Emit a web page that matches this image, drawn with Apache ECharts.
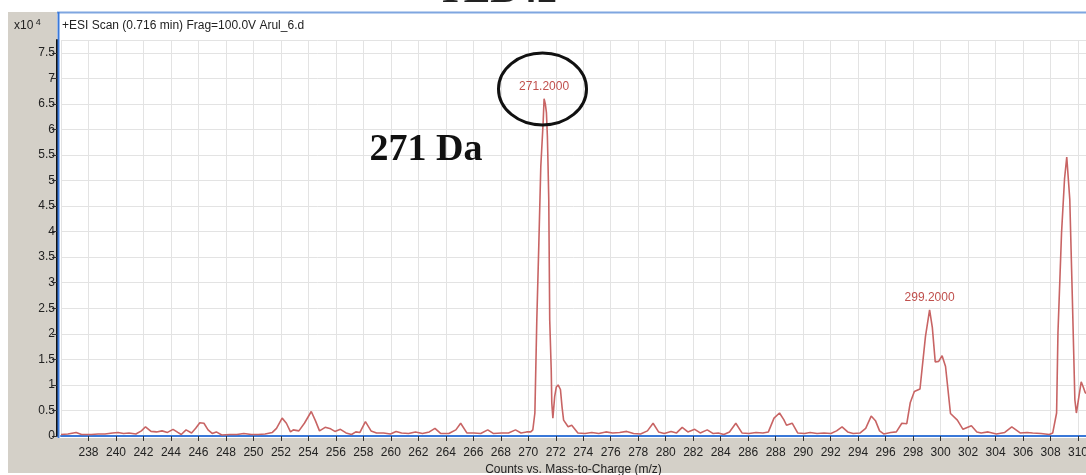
<!DOCTYPE html>
<html>
<head>
<meta charset="utf-8">
<script src="https://cdn.jsdelivr.net/npm/echarts@6/dist/echarts.min.js"></script>
<style>
html,body{margin:0;padding:0;background:#fff;}
#c{width:1086px;height:475px;}
</style>
</head>
<body>
<div id="c"></div>
<script>
// m/z values (x) and counts (x10^4)
const mz = [
236.0,236.5,237.1,237.5,238.2,238.7,239.2,239.75,240.15,240.55,240.95,241.45,241.85,242.15,242.55,242.95,243.35,243.75,244.15,244.5,244.75,245.1,245.5,245.8,246.1,246.4,246.7,247.0,247.3,247.7,248.3,248.8,249.3,249.85,250.35,250.85,251.38,251.68,252.09,252.4,252.7,252.9,253.31,253.71,254.21,254.51,254.81,255.22,255.62,255.93,256.33,256.74,257.14,257.45,257.75,258.15,258.56,258.96,259.47,259.97,260.38,260.78,261.29,261.79,262.3,262.8,263.21,263.62,264.22,264.73,265.08,265.53,266.04,266.54,267.05,267.45,268.06,268.56,269.07,269.47,269.88,270.18,270.33,270.48,270.62,270.77,270.91,271.08,271.15,271.24,271.32,271.39,271.44,271.49,271.56,271.67,271.71,271.79,271.92,272.04,272.17,272.34,272.46,272.57,272.9,273.16,273.61,274.12,274.62,275.13,275.64,276.14,276.65,277.16,277.66,278.17,278.67,279.08,279.48,279.89,280.39,280.79,281.2,281.61,282.11,282.51,283.02,283.43,283.83,284.23,284.64,285.1,285.55,286.06,286.57,287.07,287.47,287.88,288.28,288.59,288.79,289.2,289.6,290.1,290.51,291.01,291.52,292.02,292.43,292.83,293.24,293.64,294.15,294.55,294.95,295.26,295.56,295.86,296.37,296.78,297.18,297.54,297.79,298.09,298.5,298.9,299.2,299.4,299.61,299.86,300.11,300.36,300.72,301.22,301.63,302.24,302.64,302.95,303.46,304.06,304.67,305.18,305.79,306.29,306.7,307.31,307.91,308.16,308.44,308.54,308.8,309.02,309.18,309.4,309.59,309.77,309.88,310.03,310.23,310.38,310.52,310.58
];
const counts = [
0.03,0.04,0.07,0.03,0.03,0.04,0.04,0.06,0.07,0.05,0.06,0.04,0.10,0.18,0.09,0.08,0.10,0.07,0.13,0.07,0.03,0.12,0.06,0.15,0.26,0.25,0.12,0.05,0.08,0.02,0.03,0.03,0.05,0.03,0.03,0.04,0.07,0.15,0.35,0.25,0.08,0.12,0.10,0.25,0.48,0.30,0.10,0.17,0.14,0.09,0.13,0.06,0.03,0.08,0.07,0.28,0.10,0.06,0.06,0.04,0.09,0.06,0.05,0.08,0.05,0.08,0.15,0.05,0.05,0.12,0.25,0.06,0.06,0.05,0.12,0.05,0.06,0.06,0.12,0.06,0.08,0.08,0.12,0.45,2.27,3.78,5.27,6.13,6.60,6.50,6.33,5.86,5.27,4.63,2.27,1.29,0.65,0.35,0.77,0.96,1.00,0.91,0.56,0.31,0.18,0.21,0.06,0.05,0.07,0.05,0.08,0.06,0.07,0.09,0.05,0.04,0.10,0.25,0.08,0.05,0.09,0.06,0.17,0.08,0.13,0.06,0.12,0.05,0.06,0.03,0.08,0.25,0.06,0.05,0.07,0.06,0.08,0.35,0.45,0.32,0.21,0.25,0.06,0.05,0.07,0.05,0.06,0.05,0.10,0.18,0.08,0.05,0.06,0.15,0.39,0.30,0.10,0.04,0.07,0.08,0.25,0.24,0.65,0.87,0.92,1.95,2.47,2.12,1.45,1.46,1.57,1.36,0.44,0.31,0.13,0.20,0.08,0.06,0.08,0.04,0.07,0.18,0.06,0.07,0.06,0.05,0.03,0.06,0.45,2.02,3.97,5.04,5.46,4.63,2.66,0.71,0.45,0.71,1.06,0.96,0.85,0.83
];
const peakLabels = [
  { mz: 271.15, v: 6.60, text: '271.2000' },
  { mz: 299.2, v: 2.47, text: '299.2000' }
];
const title = '+ESI Scan (0.716 min) Frag=100.0V Arul_6.d';
const xName = 'Counts vs. Mass-to-Charge (m/z)';
const annotation = '271 Da';

const chart = echarts.init(document.getElementById('c'), null, { renderer: 'canvas' });
const font = '"Liberation Sans", Arial, sans-serif';
const data = mz.map((m, i) => [m, counts[i]]);

chart.setOption({
  animation: false,
  backgroundColor: '#ffffff',
  grid: { left: 61, right: 0, top: 40, bottom: 39, containLabel: false, outerBoundsMode: 'none' },
  xAxis: {
    type: 'value', min: 236, max: 310.58, interval: 2,
    position: 'bottom', offset: 2,
    name: xName, nameLocation: 'middle', nameGap: 23,
    nameTextStyle: { fontFamily: font, fontSize: 12, color: '#222' },
    axisLine: { show: true, lineStyle: { color: '#3a78d8', width: 2 } },
    axisTick: { show: true, length: 5, lineStyle: { color: '#333', width: 1 } },
    axisLabel: {
      fontFamily: font, fontSize: 12, color: '#222', margin: 9,
      showMinLabel: false, showMaxLabel: false, hideOverlap: false,
      formatter: v => (Math.abs(v - Math.round(v)) < 1e-6 ? String(Math.round(v)) : '')
    },
    splitLine: { show: true, lineStyle: { color: '#e3e3e3', width: 1 } }
  },
  yAxis: {
    type: 'value', min: 0, max: 7.75, interval: 0.5, offset: 4,
    axisLine: { show: true, lineStyle: { color: '#111', width: 2 } },
    axisTick: { show: true, length: 5, lineStyle: { color: '#333', width: 1 } },
    axisLabel: {
      fontFamily: font, fontSize: 12, color: '#222', margin: 2,
      showMaxLabel: false,
      formatter: v => (Math.abs(v * 2 - Math.round(v * 2)) < 1e-6 ? String(v) : '')
    },
    splitLine: { show: true, lineStyle: { color: '#e3e3e3', width: 1 } }
  },
  series: [{
    type: 'line', data: data, showSymbol: false, symbol: 'none',
    lineStyle: { color: '#c86464', width: 1.6 },
    z: 3,
    markPoint: {
      symbol: 'circle', symbolSize: 1,
      itemStyle: { color: 'rgba(0,0,0,0)' },
      label: {
        show: true, position: 'top', distance: 6,
        fontFamily: font, fontSize: 12, color: '#c0504d',
        formatter: p => p.name
      },
      data: peakLabels.map(p => ({ name: p.text, coord: [p.mz, p.v] }))
    }
  }],
  graphic: [
    { type: 'rect', z: -30, silent: true, shape: { x: 8, y: 12, width: 1078, height: 461 }, style: { fill: '#d4d0c8' } },
    { type: 'rect', z: -29, silent: true, shape: { x: 57, y: 12, width: 1029, height: 426 }, style: { fill: '#ffffff' } },
    { type: 'text', z: 4, silent: true, x: 497, y: 12,
      style: { text: 'TEB42', font: 'bold 40px "Liberation Serif", serif', fill: '#222', align: 'center', verticalAlign: 'bottom' } },
    { type: 'rect', z: 4, silent: true, shape: { x: 0, y: 6, width: 1086, height: 6 }, style: { fill: '#ffffff' } },
    { type: 'line', z: 5, silent: true, shape: { x1: 57, y1: 12.5, x2: 1086, y2: 12.5 }, style: { stroke: '#7fa6e0', lineWidth: 2 } },
    { type: 'line', z: 5, silent: true, shape: { x1: 58.5, y1: 12, x2: 58.5, y2: 438 }, style: { stroke: '#3a78d8', lineWidth: 2 } },
    { type: 'text', z: 5, silent: true, x: 14, y: 26,
      style: {
        text: '{a|x10}{b| 4}', verticalAlign: 'middle',
        rich: {
          a: { fontFamily: font, fontSize: 12, fill: '#222', color: '#222' },
          b: { fontFamily: font, fontSize: 9, fill: '#222', color: '#222', verticalAlign: 'top', padding: [0, 0, 6, 0] }
        }
      } },
    { type: 'text', z: 5, silent: true, x: 62, y: 26,
      style: { text: title, font: '12px ' + font, fill: '#222', verticalAlign: 'middle' } },
    { type: 'text', z: 6, silent: true, x: 426, y: 150,
      style: { text: annotation, font: 'bold 38px "Liberation Serif", "Times New Roman", serif', fill: '#111', align: 'center', verticalAlign: 'middle' } },
    { type: 'ellipse', z: 6, silent: true, shape: { cx: 542.5, cy: 89, rx: 44, ry: 36 },
      style: { fill: 'none', stroke: '#111', lineWidth: 3 } }
  ]
});
</script>
</body>
</html>
